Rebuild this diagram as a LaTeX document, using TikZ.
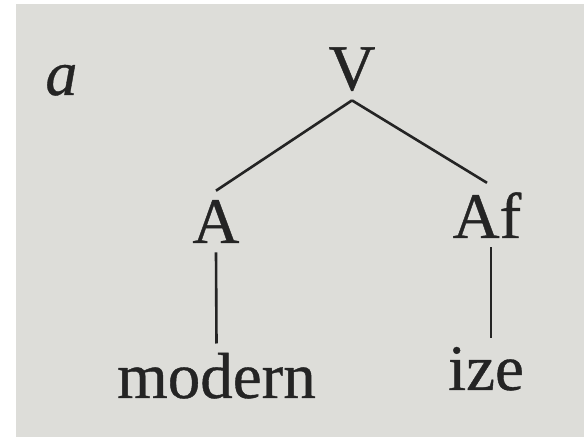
\documentclass[tikz,border=0pt]{standalone}
\usepackage{fontspec}
\setmainfont{Liberation Serif}
\newfontfamily\treefont[FakeBold=0.6]{Liberation Serif}
\newfontfamily\treeitfont[FakeBold=0.6,FakeSlant=0]{Liberation Serif Italic}
\definecolor{paper}{RGB}{221,221,217}
\definecolor{ink}{RGB}{36,36,36}
\begin{document}
\begin{tikzpicture}[x=0.5pt,y=-0.5pt,
  lbl/.style={inner sep=4.5pt, anchor=base, text=ink, font=\fontsize{32.5}{36}\treefont},
  branch/.style={draw=ink, line width=1.3pt}]
\useasboundingbox (0,0) rectangle (584,438);
\fill[white] (0,0) rectangle (584,438);
\fill[paper] (15.5,4) rectangle (584,437);
% label
\node[lbl, anchor=base west, inner sep=0pt, font=\fontsize{32}{36}\treeitfont] (lab) at (45,95) {a};
% tree nodes
\node[lbl] (V) at (352,90) {V};
\node[lbl] (A) at (216,243) {A};
\node[lbl] (Af) at (487,238) {Af};
\node[lbl] (modern) at (216.5,398) {modern};
\node[lbl] (ize) at (486,390) {ize};
% branches
\draw[branch] (V.south) -- (A.north);
\draw[branch] (V.south) -- (Af.north);
\draw[branch] (A.south) -- (modern.north);
\draw[branch] ([xshift=2pt]Af.south) -- ([xshift=2pt]Af.south |- ize.north);
\end{tikzpicture}
\end{document}
